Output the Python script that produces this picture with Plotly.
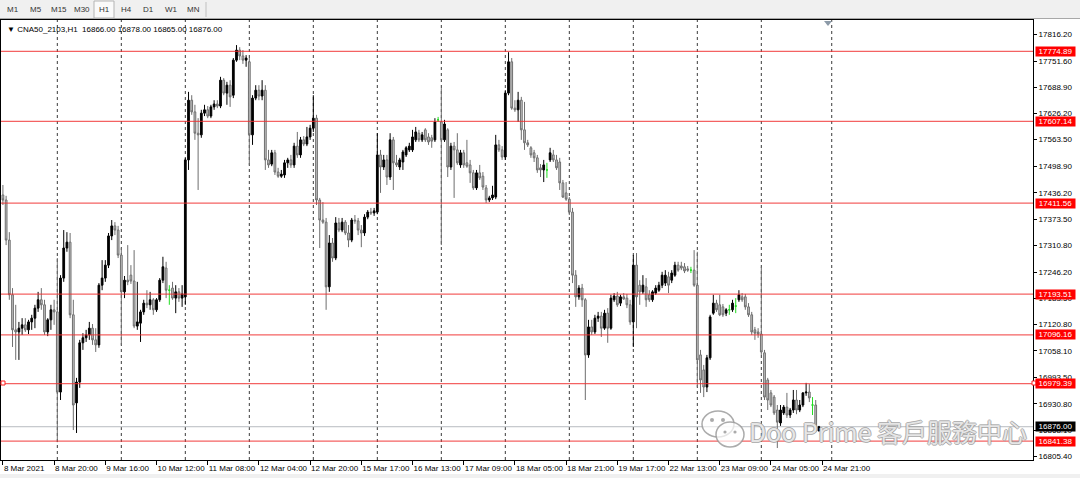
import numpy as np
import plotly.graph_objects as go

# ---------------- data (CNA50_2103, H1) ----------------
opens = [
    17431, 17419, 17323, 17192, 17108, 17103, 17112, 17120, 17108, 17127, 17136, 17160, 17180, 17168, 17103, 17132,
    17156, 17151, 16959, 17232, 17304, 17318, 17144, 16933, 16983, 17077, 17089, 17096, 17112, 17084, 17072, 17215,
    17232, 17263, 17333, 17357, 17347, 17287, 17199, 17227, 17239, 17225, 17117, 17124, 17151, 17172, 17168, 17180,
    17156, 17180, 17227, 17256, 17203, 17208, 17184, 17199, 17184, 17187, 17515, 17658, 17630, 17579, 17575, 17627,
    17635, 17620, 17642, 17649, 17644, 17706, 17675, 17694, 17670, 17754, 17778, 17764, 17754, 17750, 17575, 17663,
    17682, 17668, 17682, 17515, 17505, 17532, 17486, 17476, 17479, 17508, 17515, 17503, 17548, 17527, 17563, 17553,
    17570, 17591, 17615, 17419, 17371, 17366, 17211, 17316, 17280, 17364, 17347, 17366, 17340, 17323, 17371, 17369,
    17347, 17340, 17378, 17390, 17388, 17390, 17527, 17498, 17515, 17474, 17563, 17508, 17498, 17510, 17527, 17539,
    17539, 17563, 17579, 17563, 17587, 17570, 17568, 17563, 17611, 17606, 17563, 17587, 17498, 17548, 17539, 17503,
    17532, 17508, 17503, 17484, 17448, 17484, 17476, 17448, 17419, 17424, 17426, 17551, 17539, 17522, 17675, 17750,
    17639, 17635, 17658, 17587, 17556, 17544, 17532, 17520, 17496, 17491, 17491, 17515, 17527, 17515, 17510, 17460,
    17436, 17421, 17390, 17239, 17187, 17208, 17180, 17048, 17115, 17103, 17136, 17141, 17112, 17148, 17112, 17180,
    17189, 17172, 17187, 17184, 17168, 17127, 17263, 17215, 17199, 17211, 17192, 17180, 17196, 17203, 17215, 17220,
    17235, 17227, 17239, 17263, 17261, 17259, 17254, 17251, 17251, 17215, 17048, 17012, 16971, 17041, 17148, 17172,
    17168, 17163, 17148, 17156, 17156, 17165, 17180, 17187, 17187, 17163, 17144, 17108, 17103, 17098, 17053, 16988,
    16957, 16947, 16916, 16885, 16909, 16923, 16904, 16916, 16940, 16916, 16928, 16957, 16959, 16928, 16928, 16866,
]
highs = [
    17455, 17429, 17342, 17208, 17168, 17127, 17136, 17136, 17132, 17144, 17168, 17199, 17208, 17180, 17136, 17168,
    17180, 17280, 17239, 17347, 17342, 17340, 17180, 16993, 17084, 17100, 17108, 17127, 17122, 17112, 17220, 17275,
    17275, 17340, 17371, 17366, 17357, 17304, 17237, 17311, 17263, 17299, 17223, 17156, 17180, 17203, 17199, 17184,
    17184, 17232, 17283, 17271, 17215, 17223, 17215, 17208, 17215, 17520, 17678, 17670, 17647, 17615, 17635, 17647,
    17644, 17647, 17658, 17658, 17714, 17711, 17702, 17706, 17759, 17790, 17785, 17778, 17766, 17759, 17670, 17694,
    17694, 17706, 17694, 17539, 17539, 17539, 17496, 17491, 17515, 17520, 17527, 17556, 17582, 17570, 17572, 17594,
    17599, 17670, 17623, 17424, 17414, 17376, 17335, 17328, 17378, 17376, 17376, 17371, 17359, 17376, 17383, 17376,
    17359, 17385, 17395, 17400, 17400, 17579, 17539, 17527, 17527, 17579, 17570, 17527, 17520, 17539, 17548, 17556,
    17587, 17594, 17587, 17582, 17591, 17579, 17575, 17615, 17618, 17687, 17611, 17591, 17556, 17558, 17579, 17539,
    17539, 17563, 17515, 17491, 17491, 17503, 17486, 17455, 17429, 17453, 17575, 17563, 17548, 17682, 17773, 17759,
    17658, 17678, 17666, 17654, 17563, 17548, 17539, 17527, 17505, 17515, 17508, 17544, 17539, 17527, 17520, 17467,
    17462, 17426, 17400, 17251, 17215, 17218, 17184, 17132, 17132, 17144, 17151, 17151, 17156, 17160, 17192, 17196,
    17199, 17192, 17196, 17194, 17180, 17287, 17292, 17227, 17239, 17232, 17203, 17203, 17215, 17223, 17247, 17251,
    17247, 17251, 17271, 17271, 17271, 17268, 17261, 17259, 17299, 17295, 17060, 17024, 17048, 17144, 17192, 17180,
    17192, 17170, 17160, 17168, 17180, 17184, 17203, 17196, 17194, 17172, 17151, 17115, 17112, 17259, 17060, 16993,
    16964, 16952, 16928, 16928, 16928, 16957, 16921, 16964, 16964, 16940, 16959, 16981, 16978, 16947, 16940, 16878,
]
lows = [
    17407, 17311, 17180, 17067, 17036, 17036, 17096, 17103, 17098, 17108, 17112, 17151, 17156, 17096, 17093, 17108,
    17120, 16839, 16940, 17223, 17295, 17136, 16868, 16861, 16969, 17060, 17079, 17084, 17072, 17055, 17065, 17203,
    17223, 17256, 17323, 17335, 17280, 17072, 17184, 17215, 17218, 17112, 17108, 17079, 17144, 17160, 17156, 17144,
    17151, 17175, 17220, 17184, 17168, 17180, 17148, 17175, 17163, 17168, 17491, 17623, 17563, 17443, 17568, 17620,
    17615, 17615, 17635, 17639, 17639, 17670, 17647, 17642, 17663, 17750, 17754, 17745, 17738, 17503, 17551, 17658,
    17658, 17658, 17491, 17496, 17500, 17479, 17472, 17472, 17472, 17496, 17496, 17496, 17520, 17520, 17548, 17548,
    17563, 17582, 17407, 17304, 17362, 17156, 17199, 17271, 17275, 17342, 17342, 17335, 17306, 17318, 17362, 17335,
    17306, 17333, 17373, 17383, 17381, 17385, 17436, 17491, 17455, 17467, 17443, 17498, 17491, 17491, 17522, 17534,
    17534, 17558, 17558, 17558, 17558, 17551, 17544, 17558, 17606, 17311, 17558, 17474, 17491, 17424, 17503, 17496,
    17496, 17496, 17460, 17443, 17443, 17467, 17443, 17412, 17414, 17419, 17421, 17534, 17515, 17515, 17670, 17635,
    17630, 17606, 17563, 17539, 17546, 17520, 17510, 17484, 17474, 17462, 17472, 17510, 17510, 17491, 17443, 17424,
    17417, 17383, 17220, 17163, 17180, 17163, 16940, 17041, 17096, 17098, 17127, 17091, 17108, 17077, 17108, 17175,
    17163, 17165, 17180, 17160, 17120, 17067, 17112, 17168, 17194, 17163, 17175, 17175, 17192, 17199, 17208, 17213,
    17196, 17220, 17235, 17247, 17251, 17244, 17247, 17244, 17211, 16971, 16957, 16947, 16959, 17036, 17144, 17151,
    17141, 17139, 17141, 17144, 17151, 17148, 17175, 17175, 17156, 17139, 17096, 17084, 17089, 17048, 16940, 16916,
    16923, 16904, 16825, 16878, 16904, 16897, 16897, 16909, 16906, 16911, 16923, 16950, 16935, 16904, 16863, 16865,
]
closes = [
    17419, 17323, 17192, 17108, 17103, 17112, 17120, 17108, 17127, 17136, 17160, 17180, 17168, 17103, 17132, 17156,
    17151, 16959, 17232, 17304, 17318, 17144, 16928, 16983, 17077, 17089, 17096, 17112, 17084, 17072, 17215, 17232,
    17263, 17333, 17357, 17347, 17287, 17199, 17227, 17223, 17225, 17117, 17127, 17151, 17172, 17168, 17180, 17156,
    17180, 17227, 17259, 17203, 17203, 17184, 17199, 17184, 17194, 17515, 17658, 17630, 17579, 17575, 17627, 17635,
    17620, 17642, 17649, 17644, 17706, 17675, 17694, 17666, 17754, 17778, 17764, 17754, 17759, 17575, 17663, 17682,
    17668, 17682, 17515, 17503, 17532, 17486, 17476, 17481, 17508, 17515, 17503, 17548, 17527, 17563, 17553, 17570,
    17591, 17615, 17419, 17371, 17366, 17211, 17316, 17280, 17364, 17347, 17366, 17340, 17323, 17371, 17369, 17347,
    17340, 17378, 17390, 17388, 17393, 17527, 17498, 17515, 17474, 17563, 17508, 17503, 17515, 17534, 17544, 17548,
    17570, 17582, 17563, 17575, 17563, 17558, 17560, 17606, 17611, 17563, 17601, 17498, 17548, 17539, 17508, 17532,
    17503, 17500, 17484, 17448, 17484, 17472, 17450, 17419, 17424, 17431, 17551, 17539, 17522, 17675, 17750, 17639,
    17635, 17658, 17587, 17556, 17551, 17527, 17520, 17491, 17491, 17503, 17491, 17532, 17515, 17496, 17460, 17426,
    17421, 17390, 17239, 17187, 17208, 17180, 17048, 17115, 17103, 17136, 17141, 17112, 17148, 17112, 17184, 17189,
    17168, 17187, 17182, 17168, 17127, 17263, 17187, 17199, 17215, 17180, 17180, 17199, 17208, 17215, 17239, 17239,
    17215, 17244, 17263, 17251, 17256, 17249, 17251, 17251, 17215, 17036, 16988, 16971, 17041, 17139, 17172, 17156,
    17144, 17144, 17156, 17156, 17172, 17165, 17192, 17180, 17163, 17144, 17103, 17100, 17098, 17055, 16947, 16940,
    16928, 16909, 16887, 16916, 16923, 16904, 16916, 16940, 16916, 16928, 16957, 16959, 16945, 16928, 16866, 16876,
]

level_prices = [17774.89, 17607.14, 17411.56, 17193.51, 17096.16, 16979.39, 16841.38]
bid_price = 16876.00
ytick_vals = [17816.20, 17751.60, 17688.90, 17626.20, 17563.50, 17498.90, 17436.20, 17373.50,
              17310.80, 17246.20, 17183.50, 17120.80, 17058.10, 16993.50, 16930.80, 16868.10, 16805.40]
xtick_labels = ["8 Mar 2021", "8 Mar 20:00", "9 Mar 16:00", "10 Mar 12:00", "11 Mar 08:00",
                "12 Mar 04:00", "12 Mar 20:00", "15 Mar 17:00", "16 Mar 13:00", "17 Mar 09:00",
                "18 Mar 05:00", "18 Mar 21:00", "19 Mar 17:00", "22 Mar 13:00", "23 Mar 09:00",
                "24 Mar 05:00", "24 Mar 21:00"]
label_step = 16
grid_bars = [17, 37, 57, 77, 97, 117, 137, 157, 177, 197, 217, 237, 259]
timeframes = ["M1", "M5", "M15", "M30", "H1", "H4", "D1", "W1", "MN"]
title_text = "\u25BC CNA50_2103,H1  16866.00 16878.00 16865.00 16876.00"
watermark = "Doo Prime 客戶服務中心"

# ---------------- figure ----------------
W, H = 1080, 478
ML, MR, MT, MB = 1, 47, 20, 18
PW, PH = W - ML - MR, H - MT - MB
FONT = "Liberation Sans, Arial, sans-serif"


def px(x):
    return (x - ML) / PW


def py(y):
    return (H - MB - y) / PH


o = np.array(opens, float)
h = np.array(highs, float)
l = np.array(lows, float)
c = np.array(closes, float)
idx = np.arange(len(o))
doji = o == c

fig = go.Figure()
fig.add_trace(go.Candlestick(
    x=idx[~doji], open=o[~doji], high=h[~doji], low=l[~doji], close=c[~doji],
    increasing=dict(line=dict(color="#000000", width=1), fillcolor="#000000"),
    decreasing=dict(line=dict(color="#6e6e6e", width=1), fillcolor="#c8c8c8"),
    whiskerwidth=0, showlegend=False, hoverinfo="skip"))
fig.add_trace(go.Candlestick(
    x=idx[doji], open=o[doji], high=h[doji], low=l[doji], close=c[doji],
    increasing=dict(line=dict(color="#22dd22", width=1), fillcolor="#22dd22"),
    decreasing=dict(line=dict(color="#22dd22", width=1), fillcolor="#22dd22"),
    whiskerwidth=0, showlegend=False, hoverinfo="skip"))

shapes = []
for b in grid_bars:
    shapes.append(dict(type="line", xref="x", yref="paper", x0=b, x1=b, y0=0, y1=1,
                       line=dict(color="#3a3a3a", width=1, dash="dot"), layer="below"))
shapes.append(dict(type="line", xref="paper", yref="y", x0=0, x1=1, y0=bid_price, y1=bid_price,
                   line=dict(color="#b8bcc0", width=1), layer="below"))
for p in level_prices:
    shapes.append(dict(type="line", xref="paper", yref="y", x0=0, x1=1, y0=p, y1=p,
                       line=dict(color="rgba(240,45,45,0.75)", width=1.3), layer="above"))
for xx in (3, 1034):
    shapes.append(dict(type="rect", xref="paper", yref="paper",
                       x0=px(xx - 2), x1=px(xx + 2), y0=py(385), y1=py(381),
                       line=dict(color="#ff2020", width=1), fillcolor="#ffffff"))
# toolbar
shapes.append(dict(type="rect", xref="paper", yref="paper", x0=px(0), x1=px(W), y0=py(18.5), y1=py(0),
                   fillcolor="#f0f0f0", line=dict(width=0), layer="above"))
shapes.append(dict(type="line", xref="paper", yref="paper", x0=px(0), x1=px(W), y0=py(18.5), y1=py(18.5),
                   line=dict(color="#a8a8a8", width=1)))
shapes.append(dict(type="rect", xref="paper", yref="paper", x0=px(94), x1=px(114), y0=py(18), y1=py(1),
                   fillcolor="#fafafa", line=dict(color="#b4b4b4", width=1)))
shapes.append(dict(type="line", xref="paper", yref="paper", x0=px(206), x1=px(206), y0=py(17), y1=py(2),
                   line=dict(color="#c0c0c0", width=1)))
shapes.append(dict(type="rect", xref="paper", yref="paper", x0=px(0), x1=px(W), y0=py(H), y1=py(474),
                   fillcolor="#f0f0f0", line=dict(width=0)))
shapes.append(dict(type="path", xref="paper", yref="paper",
                   path=f"M {px(824)},{py(21)} L {px(832)},{py(21)} L {px(828)},{py(26)} Z",
                   fillcolor="#8c9aa8", line=dict(width=0)))
wm_line = dict(color="rgba(150,150,150,0.8)", width=1.5)
shapes.append(dict(type="circle", xref="paper", yref="paper", x0=px(702), x1=px(734), y0=py(437), y1=py(411),
                   fillcolor="rgba(255,255,255,0.6)", line=wm_line))
shapes.append(dict(type="circle", xref="paper", yref="paper", x0=px(716), x1=px(744), y0=py(447), y1=py(422),
                   fillcolor="rgba(255,255,255,0.7)", line=wm_line))
for (ex, ey, r) in [(712, 420, 2), (723, 420, 2), (725, 432, 1.6), (735, 432, 1.6)]:
    shapes.append(dict(type="circle", xref="paper", yref="paper", x0=px(ex - r), x1=px(ex + r),
                       y0=py(ey + r), y1=py(ey - r), fillcolor="rgba(150,150,150,0.8)", line=dict(width=0)))

annotations = []
annotations.append(dict(xref="paper", yref="paper", x=px(5), y=py(29), xanchor="left", yanchor="middle",
                        text=title_text, showarrow=False, font=dict(family=FONT, size=8, color="#000000")))
tab_x = [13, 36, 59, 82, 104, 126, 148, 171, 193]
for t, tx in zip(timeframes, tab_x):
    annotations.append(dict(xref="paper", yref="paper", x=px(tx), y=py(9.5), xanchor="center", yanchor="middle",
                            text=t, showarrow=False, font=dict(family=FONT, size=8, color="#333333")))
for p in level_prices:
    annotations.append(dict(xref="paper", yref="y", x=1, y=p, xanchor="left", yanchor="middle", xshift=2,
                            text=f"{p:.2f}", showarrow=False, bgcolor="#ff0000", width=39, height=9,
                            borderpad=0, font=dict(family=FONT, size=8, color="#ffffff")))
annotations.append(dict(xref="paper", yref="y", x=1, y=bid_price, xanchor="left", yanchor="middle", xshift=2,
                        text=f"{bid_price:.2f}", showarrow=False, bgcolor="#000000", width=39, height=9,
                        borderpad=0, font=dict(family=FONT, size=8, color="#ffffff")))
annotations.append(dict(xref="paper", yref="paper", x=px(747), y=py(431), xanchor="left", yanchor="middle",
                        text=watermark, showarrow=False,
                        font=dict(family="Noto Sans CJK TC, Noto Sans, sans-serif", size=25,
                                  color="rgba(255,255,255,0.75)",
                                  shadow="1px 0 0 #9a9a9a, -1px 0 0 #9a9a9a, 0 1px 0 #9a9a9a, 0 -1px 0 #9a9a9a")))

fig.update_layout(
    width=W, height=H,
    margin=dict(l=ML, r=MR, t=MT, b=MB, pad=0, autoexpand=False),
    paper_bgcolor="#ffffff", plot_bgcolor="#ffffff",
    showlegend=False, hovermode=False, boxgap=0.22,
    shapes=shapes, annotations=annotations,
    xaxis=dict(range=[-0.6, -0.6 + PW / 3.2], showgrid=False, zeroline=False, automargin=False,
               showline=True, mirror=True, linecolor="#000000", linewidth=1,
               tickmode="array", tickvals=[i * label_step for i in range(len(xtick_labels))],
               ticktext=xtick_labels, ticks="outside", ticklen=4, tickcolor="#000000",
               ticklabelposition="outside right", tickangle=0,
               tickfont=dict(family=FONT, size=8, color="#000000"),
               rangeslider=dict(visible=False), fixedrange=True),
    yaxis=dict(range=[17898 - 2.395 * 460, 17898 - 2.395 * 20], side="right", showgrid=False,
               zeroline=False, showline=True, mirror=True, linecolor="#000000", linewidth=1,
               automargin=False,
               tickmode="array", tickvals=ytick_vals, ticktext=[f"{v:.2f}" for v in ytick_vals],
               ticks="outside", ticklen=3, tickcolor="#000000",
               tickfont=dict(family=FONT, size=8, color="#000000"), fixedrange=True),
)

fig.write_html("out.html", config={"displayModeBar": False},
               post_script="document.body.style.margin='0';document.body.style.overflow='hidden';")
